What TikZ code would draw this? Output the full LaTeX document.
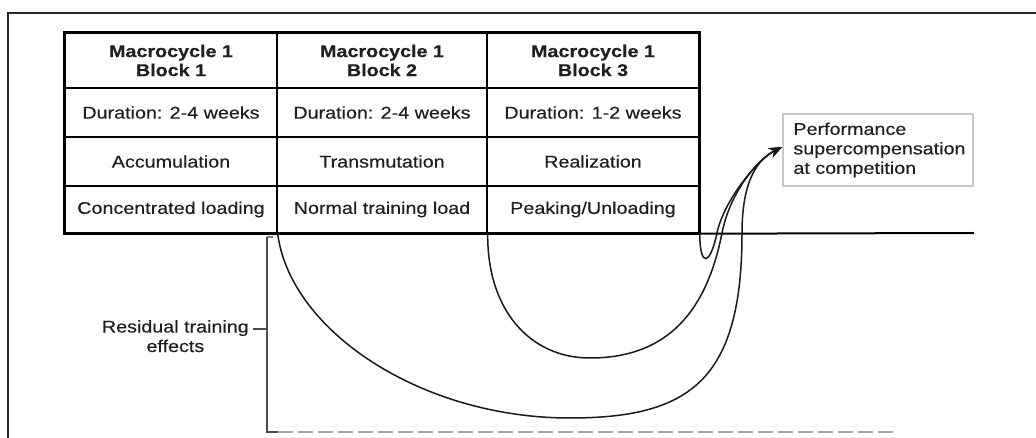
\documentclass[tikz,border=0pt]{standalone}
\usepackage{fontspec}
\setmainfont{Liberation Sans}[FakeStretch=1.16, UprightFeatures={FakeBold=0.35}, BoldFeatures={FakeBold=0.35}]
\usetikzlibrary{arrows.meta}
\begin{document}
\begin{tikzpicture}[x=1bp,y=-1bp,
  every node/.style={font=\fontsize{17bp}{19.5bp}\selectfont, text=black!88},
  cellA/.style={draw, line width=1.4bp, inner sep=0pt, align=center, minimum width=212bp},
  cellB/.style={draw, line width=1.4bp, inner sep=0pt, align=center, minimum width=210bp},
  head/.style={minimum height=55bp, font=\fontsize{17bp}{19bp}\selectfont\bfseries},
  mid/.style={minimum height=49bp},
  low/.style={minimum height=47bp},
  curve/.style={line width=1.5bp, black!90},
  tip/.style={-{Stealth[length=13bp,width=10bp]}},
  bracket/.style={line width=1.5bp, black!70},
  residual/.style={line width=2.4bp, black!35, dash pattern=on 15bp off 5bp},
  perfbox/.style={draw=black!22, line width=1.6bp, minimum width=190bp, minimum height=72bp, inner sep=0pt}
]
\useasboundingbox (0,0) rectangle (1036,438);
\fill[white] (0,0) rectangle (1036,438);

% frame
\coordinate (fbl) at (8,438);
\coordinate (ftl) at (8,13);
\coordinate (ftr) at (1036,13);
\draw[line width=1.6bp, black!85] (fbl) -- (ftl) -- (ftr);

% table of blocks
\node[cellA, head] (c11) at (171,60.5) {Macrocycle 1\\Block 1};
\node[cellB, head] (c12) at (382,60.5) {Macrocycle 1\\Block 2};
\node[cellA, head] (c13) at (593,60.5) {Macrocycle 1\\Block 3};
\node[cellA, mid] (c21) at (171,112.5) {Duration: 2-4 weeks};
\node[cellB, mid] (c22) at (382,112.5) {Duration: 2-4 weeks};
\node[cellA, mid] (c23) at (593,112.5) {Duration: 1-2 weeks};
\node[cellA, mid] (c31) at (171,161.5) {Accumulation};
\node[cellB, mid] (c32) at (382,161.5) {Transmutation};
\node[cellA, mid] (c33) at (593,161.5) {Realization};
\node[cellA, low] (c41) at (171,209.5) {Concentrated loading};
\node[cellB, low] (c42) at (382,209.5) {Normal training load};
\node[cellA, low] (c43) at (593,209.5) {Peaking/Unloading};
\draw[line width=2.4bp] (c11.north west) rectangle (c43.south east);

% time axis
\coordinate (axisend) at (974,233);
\draw[line width=2bp] (c43.south east) -- (axisend);

% outcome box
\node[perfbox] (perf) at (878,150) {};
\node[anchor=west, align=left, inner sep=0pt] (perftxt) at ([xshift=11bp]perf.west)
  {Performance\\supercompensation\\at competition};
\coordinate (goal) at ([yshift=3bp]perf.west);

% training effect curves
\draw[curve, tip] (c41.south east) .. controls (290,330) and (420,418) .. (570,418)
  .. controls (690,418) and (742,380) .. (742,233)
  .. controls (742,180) and (758,159) .. (goal);
\draw[curve, tip] (c42.south east) .. controls (487,310) and (530,358) .. (590,358)
  .. controls (660,358) and (705,320) .. (722,233)
  .. controls (730,192) and (758,159) .. (goal);
\draw[curve, tip] (c43.south east) .. controls (700,268) and (710,266) .. (717,233)
  .. controls (724,200) and (758,159) .. (goal);

% residual training effects
\coordinate (btop) at (273,237);
\coordinate (bcorner) at (267,237);
\coordinate (bbottom) at (267,432);
\coordinate (dstart) at (278,432);
\coordinate (dend) at (893,432);
\draw[line width=1.5bp, black!50] (btop) -- (bcorner);
\draw[bracket] (bcorner) -- (bbottom) -- (dstart);
\draw[residual] (dstart) -- (dend);
\node[align=center, inner sep=0pt, anchor=north east] (res) at (249,320)
  {Residual training\\effects};
\coordinate (tick) at (267,329);
\draw[bracket] (tick) -- ++(-14,0);
\end{tikzpicture}
\end{document}
